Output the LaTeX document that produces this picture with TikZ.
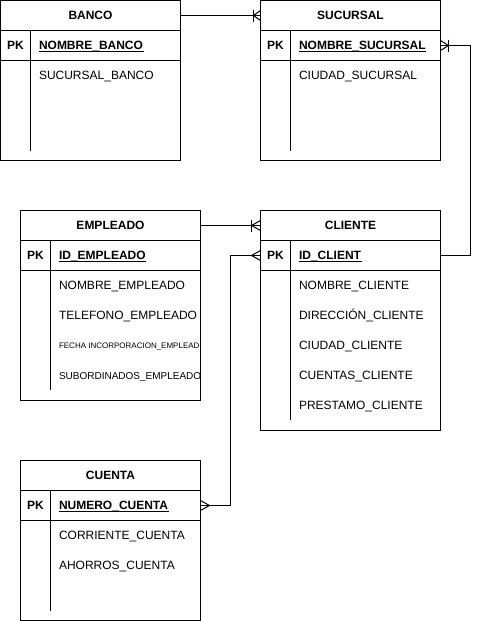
\documentclass[tikz,border=0pt]{standalone}
\usepackage{fontspec}
\setmainfont{Liberation Sans}
\usetikzlibrary{calc}
\begin{document}
\begin{tikzpicture}[x=1pt,y=-1pt,line width=1pt,
  tbl/.style={draw,inner sep=0pt,outer sep=0pt,minimum width=180pt,anchor=north west},
  hdr/.style={tbl,minimum height=30pt,font=\fontsize{12}{14}\selectfont\bfseries,text height=8.6pt,text depth=0pt},
  pkrow/.style={tbl,minimum height=30pt},
  pklab/.style={inner sep=0pt,font=\fontsize{12}{14}\selectfont\bfseries,text height=8.6pt,text depth=0pt},
  fld/.style={anchor=west,inner sep=0pt,font=\fontsize{12}{14}\selectfont,text height=8.6pt,text depth=0pt},
  pkfld/.style={fld,font=\fontsize{12}{14}\selectfont\bfseries},
  ul/.style={line width=0.9pt,shorten >=0pt},
  rel/.style={line width=1pt}
]
\useasboundingbox (0,0) rectangle (479,621);
\fill[white] (0,0) rectangle (479,621);

% ---------- BANCO ----------
\node[tbl,minimum height=160pt] (banco) at (0.5,0.5) {};
\node[hdr] (bancoH) at (0.5,0.5) {BANCO};
\node[pkrow] (bancoPK) at (0.5,30.5) {};
\draw ($(bancoPK.north west)+(30,0)$) -- ++(0,120);
\node[pklab] at ($(bancoPK.west)+(15,0)$) {PK};
\node[pkfld] (bancoPKf) at ($(bancoPK.west)+(38,0)$) {NOMBRE\_BANCO};
\draw[ul] ($(bancoPKf.base west)+(0,1.8)$) -- ($(bancoPKf.base east)+(0,1.8)$);
\node[fld] at ($(bancoPK.west)+(38,30)$) {SUCURSAL\_BANCO};

% ---------- SUCURSAL ----------
\node[tbl,minimum height=160pt] (sucursal) at (260.5,0.5) {};
\node[hdr] (sucursalH) at (260.5,0.5) {SUCURSAL};
\node[pkrow] (sucursalPK) at (260.5,30.5) {};
\draw ($(sucursalPK.north west)+(30,0)$) -- ++(0,120);
\node[pklab] at ($(sucursalPK.west)+(15,0)$) {PK};
\node[pkfld] (sucursalPKf) at ($(sucursalPK.west)+(38,0)$) {NOMBRE\_SUCURSAL};
\draw[ul] ($(sucursalPKf.base west)+(0,1.8)$) -- ($(sucursalPKf.base east)+(0,1.8)$);
\node[fld] at ($(sucursalPK.west)+(38,30)$) {CIUDAD\_SUCURSAL};

% ---------- EMPLEADO ----------
\node[tbl,minimum height=190pt] (empleado) at (20.5,210.5) {};
\node[hdr] (empleadoH) at (20.5,210.5) {EMPLEADO};
\node[pkrow] (empleadoPK) at (20.5,240.5) {};
\draw ($(empleadoPK.north west)+(30,0)$) -- ++(0,149);
\node[pklab] at ($(empleadoPK.west)+(15,0)$) {PK};
\node[pkfld] (empleadoPKf) at ($(empleadoPK.west)+(38,0)$) {ID\_EMPLEADO};
\draw[ul] ($(empleadoPKf.base west)+(0,1.8)$) -- ($(empleadoPKf.base east)+(0,1.8)$);
\node[fld] at ($(empleadoPK.west)+(38,30)$) {NOMBRE\_EMPLEADO};
\node[fld] at ($(empleadoPK.west)+(38,60)$) {TELEFONO\_EMPLEADO};
\begin{scope}
  \clip (empleado.north west) rectangle (empleado.south east);
  \node[fld,font=\fontsize{8}{10}\selectfont,text height=5.7pt] at ($(empleadoPK.west)+(38,90)$) {FECHA INCORPORACION\_EMPLEAD};
  \node[fld,font=\fontsize{10}{12}\selectfont,text height=7.2pt] at ($(empleadoPK.west)+(38,120)$) {SUBORDINADOS\_EMPLEADO};
\end{scope}

% ---------- CLIENTE ----------
\node[tbl,minimum height=220pt] (cliente) at (260.5,210.5) {};
\node[hdr] (clienteH) at (260.5,210.5) {CLIENTE};
\node[pkrow] (clientePK) at (260.5,240.5) {};
\draw ($(clientePK.north west)+(30,0)$) -- ++(0,179);
\node[pklab] at ($(clientePK.west)+(15,0)$) {PK};
\node[pkfld] (clientePKf) at ($(clientePK.west)+(38,0)$) {ID\_CLIENT};
\draw[ul] ($(clientePKf.base west)+(0,1.8)$) -- ($(clientePKf.base east)+(0,1.8)$);
\node[fld] at ($(clientePK.west)+(38,30)$) {NOMBRE\_CLIENTE};
\node[fld] at ($(clientePK.west)+(38,60)$) {DIRECCIÓN\_CLIENTE};
\node[fld] at ($(clientePK.west)+(38,90)$) {CIUDAD\_CLIENTE};
\node[fld] at ($(clientePK.west)+(38,120)$) {CUENTAS\_CLIENTE};
\node[fld] at ($(clientePK.west)+(38,150)$) {PRESTAMO\_CLIENTE};

% ---------- CUENTA ----------
\node[tbl,minimum height=160pt] (cuenta) at (20.5,460.5) {};
\node[hdr] (cuentaH) at (20.5,460.5) {CUENTA};
\node[pkrow] (cuentaPK) at (20.5,490.5) {};
\draw ($(cuentaPK.north west)+(30,0)$) -- ++(0,120);
\node[pklab] at ($(cuentaPK.west)+(15,0)$) {PK};
\node[pkfld] (cuentaPKf) at ($(cuentaPK.west)+(38,0)$) {NUMERO\_CUENTA};
\draw[ul] ($(cuentaPKf.base west)+(0,1.8)$) -- ($(cuentaPKf.base east)+(0,1.8)$);
\node[fld] at ($(cuentaPK.west)+(38,30)$) {CORRIENTE\_CUENTA};
\node[fld] at ($(cuentaPK.west)+(38,60)$) {AHORROS\_CUENTA};

% ---------- Relationships ----------
% BANCO -- SUCURSAL (one to many)
\draw[rel] (bancoH.east) -- (sucursalH.west);
\draw[rel] ($(sucursalH.west)+(-7,-6)$) -- ++(0,12);
\draw[rel] ($(sucursalH.west)+(-7,0)$) -- ($(sucursalH.west)+(0,-5)$);
\draw[rel] ($(sucursalH.west)+(-7,0)$) -- ($(sucursalH.west)+(0,5)$);

% CLIENTE -- SUCURSAL (one to many at SUCURSAL)
\coordinate (c1) at ($(clientePK.east)+(30,0)$);
\coordinate (c2) at ($(sucursalPK.east)+(30,0)$);
\draw[rel] (clientePK.east) -- (c1) -- (c2) -- (sucursalPK.east);
\draw[rel] ($(sucursalPK.east)+(8,-6)$) -- ++(0,12);
\draw[rel] ($(sucursalPK.east)+(8,0)$) -- ($(sucursalPK.east)+(0,-5)$);
\draw[rel] ($(sucursalPK.east)+(8,0)$) -- ($(sucursalPK.east)+(0,5)$);

% EMPLEADO -- CLIENTE (one to many at CLIENTE)
\draw[rel] (empleadoH.east) -- (clienteH.west);
\draw[rel] ($(clienteH.west)+(-9,-6)$) -- ++(0,12);
\draw[rel] ($(clienteH.west)+(-9,0)$) -- ($(clienteH.west)+(0,-5)$);
\draw[rel] ($(clienteH.west)+(-9,0)$) -- ($(clienteH.west)+(0,5)$);

% CUENTA -- CLIENTE (many to many)
\coordinate (d1) at ($(cuentaPK.east)+(30,0)$);
\coordinate (d2) at ($(clientePK.west)+(-30,0)$);
\draw[rel] (cuentaPK.east) -- (d1) -- (d2) -- (clientePK.west);
\draw[rel] ($(clientePK.west)+(-9,0)$) -- ($(clientePK.west)+(0,-5)$);
\draw[rel] ($(clientePK.west)+(-9,0)$) -- ($(clientePK.west)+(0,5)$);
\draw[rel] ($(cuentaPK.east)+(9,0)$) -- ($(cuentaPK.east)+(0,-5)$);
\draw[rel] ($(cuentaPK.east)+(9,0)$) -- ($(cuentaPK.east)+(0,5)$);
\end{tikzpicture}
\end{document}
